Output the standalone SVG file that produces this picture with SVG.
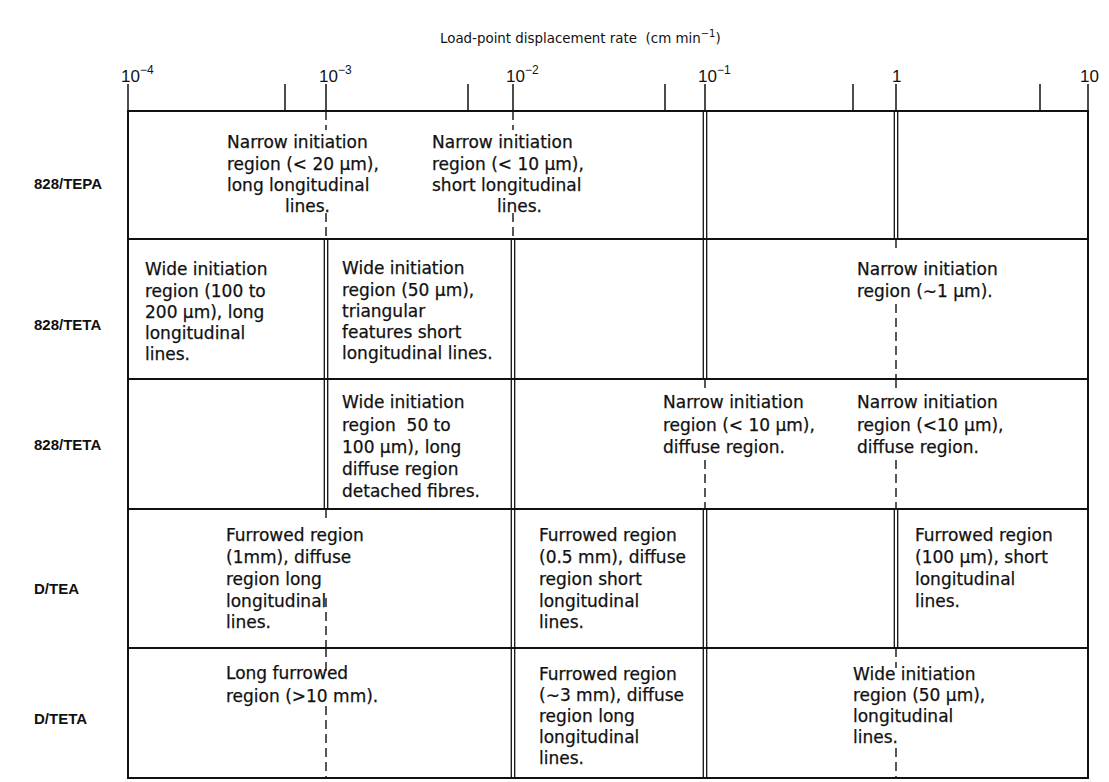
<svg xmlns="http://www.w3.org/2000/svg" width="1109" height="782" viewBox="0 0 1109 782">
<style>
.t{font-family:"DejaVu Sans",sans-serif;font-size:17px;fill:#111;stroke:#111;stroke-width:0.25}
.lab{font-family:"Liberation Sans",Arial,sans-serif;font-size:15px;font-weight:bold;fill:#111}
.ax{font-family:"Liberation Sans",Arial,sans-serif;font-size:17px;fill:#111}
.sup{font-size:12px}
.hd{font-family:"DejaVu Sans",sans-serif;font-size:13.4px;fill:#111;white-space:pre}
.b{stroke:#111;stroke-width:2;fill:none}
.tk{stroke:#111;stroke-width:1.5;fill:none}
.d{stroke:#111;stroke-width:1.3;fill:none}
.ds{stroke:#111;stroke-width:1.4;fill:none;stroke-dasharray:9 5}
</style>
<rect width="1109" height="782" fill="#fff"/>
<g id="heading">
<text class="hd" x="440" y="43">Load-point displacement rate  (cm min<tspan font-size="10px" dy="-6">−1</tspan><tspan dy="6">)</tspan></text>
</g>
<g id="axis">
<line class="b" x1="127" y1="111" x2="1089" y2="111"/>
<g class="tk">
<line x1="128" y1="84" x2="128" y2="111"/>
<line x1="285" y1="84" x2="285" y2="111"/>
<line x1="326" y1="84" x2="326" y2="111"/>
<line x1="468" y1="84" x2="468" y2="111"/>
<line x1="513" y1="84" x2="513" y2="111"/>
<line x1="665" y1="84" x2="665" y2="111"/>
<line x1="705" y1="84" x2="705" y2="111"/>
<line x1="853" y1="84" x2="853" y2="111"/>
<line x1="896" y1="84" x2="896" y2="111"/>
<line x1="1040" y1="84" x2="1040" y2="111"/>
<line x1="1088" y1="84" x2="1088" y2="111"/>
</g>
<text class="ax" x="121" y="82">10<tspan class="sup" dy="-8">−4</tspan></text>
<text class="ax" x="319" y="82">10<tspan class="sup" dy="-8">−3</tspan></text>
<text class="ax" x="506" y="82">10<tspan class="sup" dy="-8">−2</tspan></text>
<text class="ax" x="698" y="82">10<tspan class="sup" dy="-8">−1</tspan></text>
<text class="ax" x="892" y="82">1</text>
<text class="ax" x="1080" y="82">10</text>
</g>
<g id="grid">
<line class="b" x1="128" y1="111" x2="128" y2="778"/>
<line class="b" x1="1088" y1="111" x2="1088" y2="778"/>
<line class="b" x1="127" y1="239" x2="1089" y2="239"/>
<line class="b" x1="127" y1="379" x2="1089" y2="379"/>
<line class="b" x1="127" y1="509" x2="1089" y2="509"/>
<line class="b" x1="127" y1="648" x2="1089" y2="648"/>
<line class="b" x1="127" y1="778" x2="1089" y2="778"/>
</g>
<g id="connectors">
<g class="d">
<line x1="324.3" y1="239" x2="324.3" y2="509"/><line x1="327.7" y1="239" x2="327.7" y2="509"/>
<line x1="511.3" y1="239" x2="511.3" y2="778"/><line x1="514.7" y1="239" x2="514.7" y2="778"/>
<line x1="703.3" y1="111" x2="703.3" y2="379"/><line x1="706.7" y1="111" x2="706.7" y2="379"/>
<line x1="703.3" y1="509" x2="703.3" y2="778"/><line x1="706.7" y1="509" x2="706.7" y2="778"/>
<line x1="894.3" y1="111" x2="894.3" y2="239"/><line x1="897.7" y1="111" x2="897.7" y2="239"/>
<line x1="894.3" y1="509" x2="894.3" y2="648"/><line x1="897.7" y1="509" x2="897.7" y2="648"/>
</g>
<g class="ds">
<line x1="326" y1="111" x2="326" y2="130"/><line x1="326" y1="213" x2="326" y2="239"/>
<line x1="513" y1="111" x2="513" y2="130"/><line x1="513" y1="213" x2="513" y2="239"/>
<line x1="896" y1="239" x2="896" y2="252"/><line x1="896" y1="304" x2="896" y2="379"/>
<line x1="705" y1="379" x2="705" y2="393"/><line x1="705" y1="460" x2="705" y2="509"/>
<line x1="896" y1="379" x2="896" y2="393"/><line x1="896" y1="460" x2="896" y2="509"/>
<line x1="326" y1="509" x2="326" y2="523"/><line x1="326" y1="598" x2="326" y2="648"/>
<line x1="326" y1="648" x2="326" y2="671"/><line x1="326" y1="706" x2="326" y2="778"/>
<line x1="896" y1="648" x2="896" y2="668"/><line x1="896" y1="748" x2="896" y2="778"/>
</g>
</g>
<g id="row-labels">
<text class="lab" x="34" y="189">828/TEPA</text>
<text class="lab" x="34" y="330">828/TETA</text>
<text class="lab" x="34" y="450">828/TETA</text>
<text class="lab" x="34" y="594">D/TEA</text>
<text class="lab" x="34" y="724">D/TETA</text>
</g>
<g id="r1c1"><text class="t"><tspan x="227" y="148">Narrow initiation</tspan><tspan x="227" y="170">region (&lt; 20 µm),</tspan><tspan x="227" y="191">long longitudinal</tspan><tspan x="285" y="212">lines.</tspan></text></g>
<g id="r1c2"><text class="t"><tspan x="432" y="148">Narrow initiation</tspan><tspan x="432" y="170">region (&lt; 10 µm),</tspan><tspan x="432" y="191">short longitudinal</tspan><tspan x="497" y="212">lines.</tspan></text></g>
<g id="r2c1"><text class="t"><tspan x="145" y="275">Wide initiation</tspan><tspan x="145" y="297">region (100 to</tspan><tspan x="145" y="318">200 µm), long</tspan><tspan x="145" y="339">longitudinal</tspan><tspan x="145" y="360">lines.</tspan></text></g>
<g id="r2c2"><text class="t"><tspan x="342" y="274">Wide initiation</tspan><tspan x="342" y="296">region (50 µm),</tspan><tspan x="342" y="317">triangular</tspan><tspan x="342" y="338">features short</tspan><tspan x="342" y="359">longitudinal lines.</tspan></text></g>
<g id="r2c3"><text class="t"><tspan x="857" y="275">Narrow initiation</tspan><tspan x="857" y="297">region (∼1 µm).</tspan></text></g>
<g id="r3c1"><text class="t" style="white-space:pre"><tspan x="342" y="408">Wide initiation</tspan><tspan x="342" y="431">region  50 to</tspan><tspan x="342" y="453">100 µm), long</tspan><tspan x="342" y="475">diffuse region</tspan><tspan x="342" y="497">detached fibres.</tspan></text></g>
<g id="r3c2"><text class="t"><tspan x="663" y="408">Narrow initiation</tspan><tspan x="663" y="431">region (&lt; 10 µm),</tspan><tspan x="663" y="453">diffuse region.</tspan></text></g>
<g id="r3c3"><text class="t"><tspan x="857" y="408">Narrow initiation</tspan><tspan x="857" y="431">region (&lt;10 µm),</tspan><tspan x="857" y="453">diffuse region.</tspan></text></g>
<g id="r4c1"><text class="t"><tspan x="226" y="541">Furrowed region</tspan><tspan x="226" y="563">(1mm), diffuse</tspan><tspan x="226" y="585">region long</tspan><tspan x="226" y="607">longitudinal</tspan><tspan x="226" y="628">lines.</tspan></text></g>
<g id="r4c2"><text class="t"><tspan x="539" y="541">Furrowed region</tspan><tspan x="539" y="563">(0.5 mm), diffuse</tspan><tspan x="539" y="585">region short</tspan><tspan x="539" y="607">longitudinal</tspan><tspan x="539" y="628">lines.</tspan></text></g>
<g id="r4c3"><text class="t"><tspan x="915" y="541">Furrowed region</tspan><tspan x="915" y="563">(100 µm), short</tspan><tspan x="915" y="585">longitudinal</tspan><tspan x="915" y="607">lines.</tspan></text></g>
<g id="r5c1"><text class="t"><tspan x="226" y="679">Long furrowed</tspan><tspan x="226" y="702">region (&gt;10 mm).</tspan></text></g>
<g id="r5c2"><text class="t"><tspan x="539" y="680">Furrowed region</tspan><tspan x="539" y="701">(∼3 mm), diffuse</tspan><tspan x="539" y="722">region long</tspan><tspan x="539" y="743">longitudinal</tspan><tspan x="539" y="764">lines.</tspan></text></g>
<g id="r5c3"><text class="t"><tspan x="853" y="680">Wide initiation</tspan><tspan x="853" y="701">region (50 µm),</tspan><tspan x="853" y="722">longitudinal</tspan><tspan x="853" y="743">lines.</tspan></text></g>
</svg>
